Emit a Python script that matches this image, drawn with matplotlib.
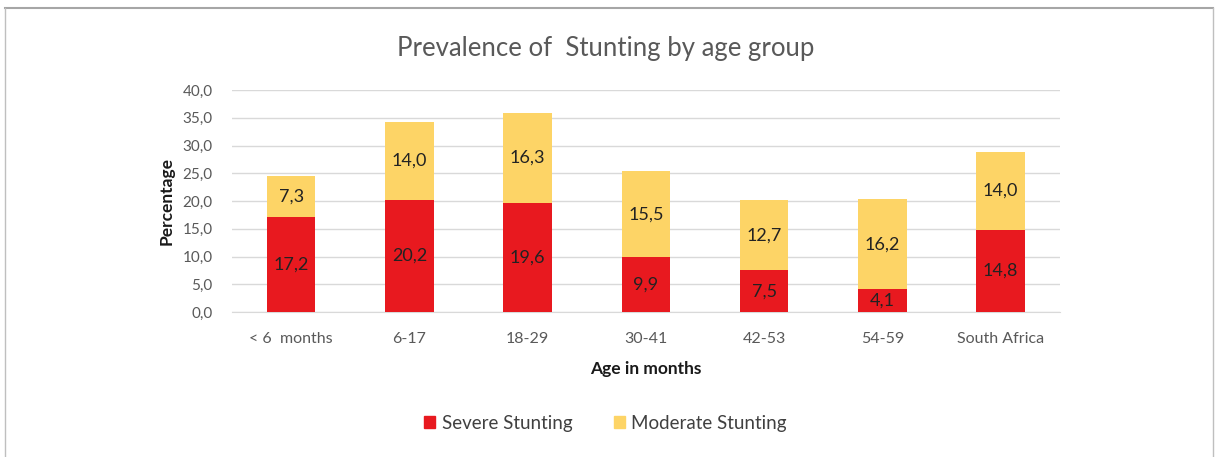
import matplotlib.pyplot as plt
import numpy as np
from matplotlib.lines import Line2D
from matplotlib.patches import Patch

plt.rcParams['font.family'] = ['Lato', 'DejaVu Sans']

# data
groups = ['< 6  months', '6-17', '18-29', '30-41', '42-53', '54-59', 'South Africa']
severe = [17.2, 20.2, 19.6, 9.9, 7.5, 4.1, 14.8]
moderate = [7.3, 14.0, 16.3, 15.5, 12.7, 16.2, 14.0]
yticks = [0, 5, 10, 15, 20, 25, 30, 35, 40]

red = '#E8191F'
yellow = '#FDD466'
grey = '#595959'

fig = plt.figure(figsize=(12.18, 4.57), dpi=100)
ax = fig.add_axes([0.1905, 0.317, 0.6795, 0.486])

x = np.arange(len(groups))
w = 0.41
b1 = ax.bar(x, severe, w, color=red, zorder=3)
b2 = ax.bar(x, moderate, w, bottom=severe, color=yellow, zorder=3)

def fmt(v):
    return f'{v:.1f}'.replace('.', ',')

for i in range(len(groups)):
    ax.text(x[i], severe[i] / 2, fmt(severe[i]), ha='center', va='center',
            fontsize=13, color='#222222', zorder=4)
    ax.text(x[i], severe[i] + moderate[i] / 2, fmt(moderate[i]), ha='center',
            va='center', fontsize=13, color='#222222', zorder=4)

ax.set_xlim(-0.5, len(groups) - 0.5)
ax.set_ylim(0, 40)
ax.set_yticks(yticks)
ax.set_yticklabels([fmt(v) for v in yticks])
ax.set_xticks(x)
ax.set_xticklabels(groups)
ax.tick_params(axis='both', length=0, labelsize=11.5, labelcolor=grey)
ax.tick_params(axis='y', labelsize=11, pad=14)
ax.tick_params(axis='x', pad=14)
ax.grid(axis='y', color='#D9D9D9', lw=1, zorder=0)
for s in ['top', 'right', 'left']:
    ax.spines[s].set_visible(False)
ax.spines['bottom'].set_color('#D9D9D9')

ax.set_ylabel('Percentage', fontsize=12.5, fontweight='bold', color='#1a1a1a', labelpad=6)
ax.set_xlabel('Age in months', fontsize=12.5, fontweight='bold', color='#1a1a1a', labelpad=11)

fig.text(0.497, 0.893, 'Prevalence of  Stunting by age group', ha='center', va='center',
         fontsize=18.5, color=grey)

handles = [Patch(color=red), Patch(color=yellow)]
fig.legend(handles, ['Severe Stunting', 'Moderate Stunting'], loc='center',
           bbox_to_anchor=(0.497, 0.074), ncol=2, frameon=False, fontsize=13.5,
           handlelength=0.6, handleheight=0.6, handletextpad=0.35, columnspacing=2.2,
           labelcolor='#404040')

# outer frame
fig.add_artist(Line2D([0.004, 0.996], [0.982, 0.982], color='#A6A6A6', lw=1.5))
fig.add_artist(Line2D([0.004, 0.004], [0.0, 0.982], color='#BFBFBF', lw=1))
fig.add_artist(Line2D([0.996, 0.996], [0.0, 0.982], color='#BFBFBF', lw=1))

fig.savefig('out.png', dpi=100)
